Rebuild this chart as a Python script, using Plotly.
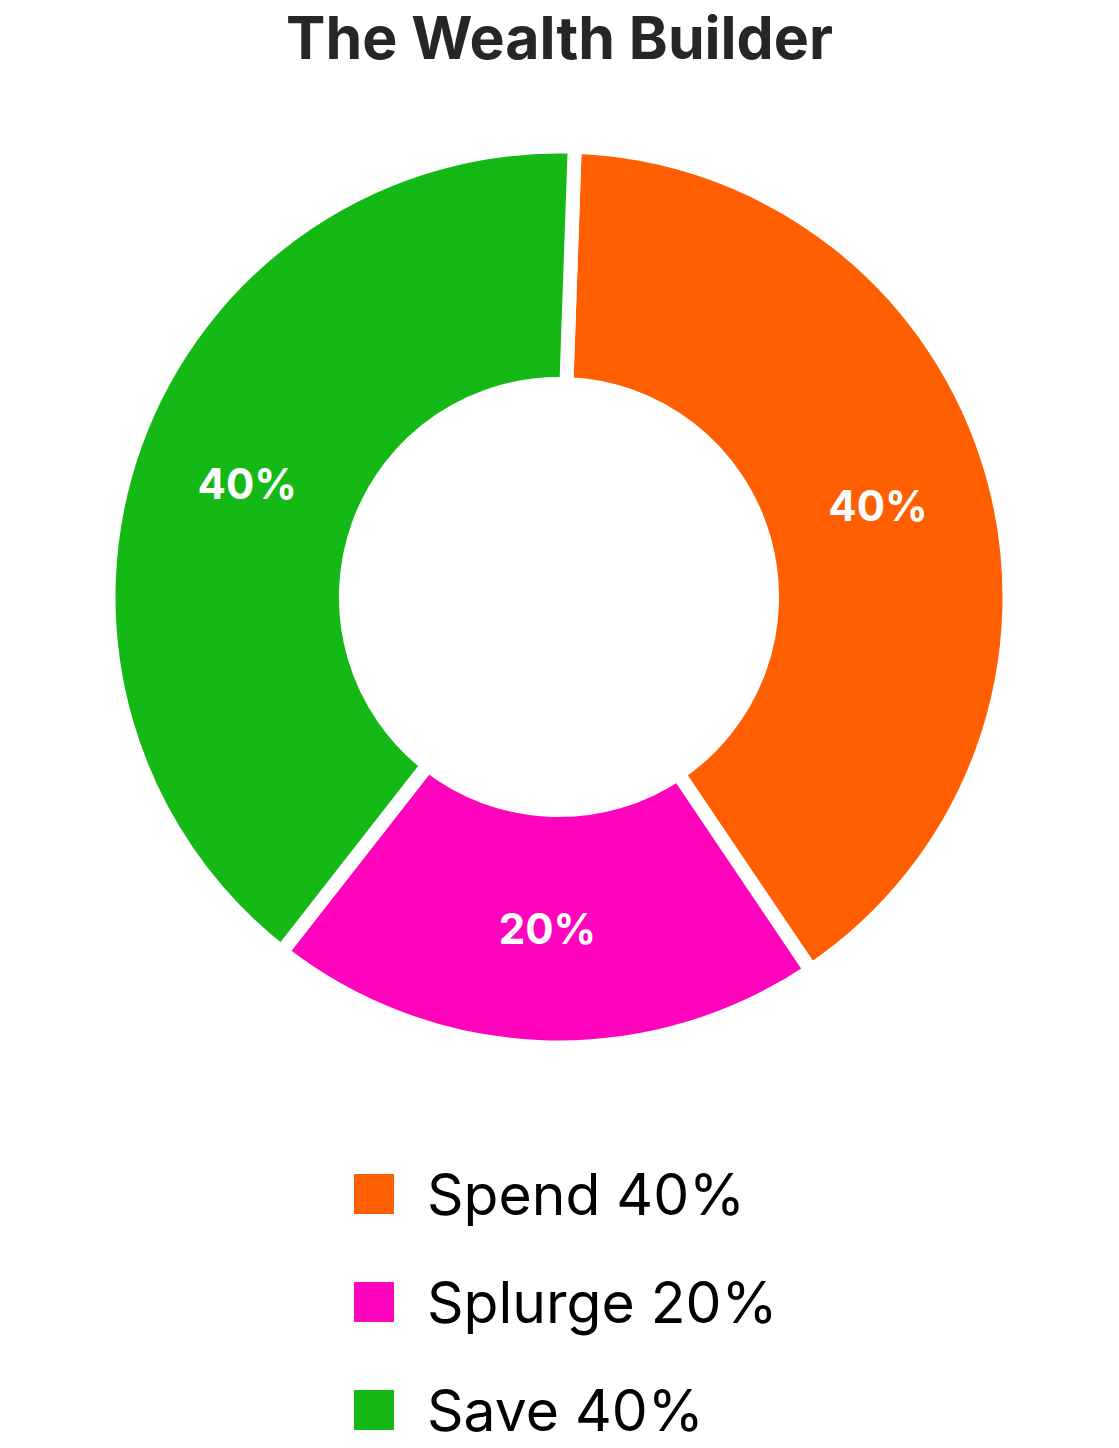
import plotly.graph_objects as go

# ---- data ----
labels = ["Spend", "Splurge", "Save"]
values = [40, 20, 40]
colors = ["#FF5F00", "#FF03BD", "#15B915"]
title_text = "The Wealth Builder"

# page body margin removed below, so figure fills the window
W, H = 1119, 1448


def px(x):
    return x / W


def py(y):
    return 1 - y / H


fig = go.Figure()
fig.add_trace(go.Pie(
    labels=labels,
    values=values,
    sort=False,
    direction="clockwise",
    rotation=2,
    hole=0.473,
    marker=dict(colors=colors, line=dict(color="#FFFFFF", width=14)),
    textinfo="percent",
    texttemplate="%{percent:.0%}",
    textposition="inside",
    insidetextorientation="horizontal",
    textfont=dict(family="Inter", size=42, color="#FFFFFF", weight="bold"),
    domain=dict(x=[px(108.5), px(1009.5)], y=[py(1047.5), py(146.5)]),
    showlegend=False,
    hoverinfo="label+percent",
))

# custom large legend built from the data arrays
shapes = []
annotations = []
row0 = 1194
row_gap = 108
for i, (lab, val, col) in enumerate(zip(labels, values, colors)):
    cy = row0 + i * row_gap
    shapes.append(dict(
        type="rect", xref="paper", yref="paper",
        x0=px(354), x1=px(394),
        y0=py(cy + 20), y1=py(cy - 20),
        fillcolor=col, line=dict(width=0),
    ))
    annotations.append(dict(
        xref="paper", yref="paper",
        x=px(425), y=py(cy),
        xanchor="left", yanchor="middle",
        text=f"{lab} {val}%", showarrow=False,
        font=dict(family="Inter", size=57, color="#000000"),
    ))

fig.update_layout(
    width=W, height=H,
    margin=dict(l=0, r=0, t=0, b=0),
    paper_bgcolor="#FFFFFF",
    plot_bgcolor="#FFFFFF",
    title=dict(
        text=title_text,
        x=0.5, xanchor="center",
        y=py(38), yanchor="middle", yref="container",
        font=dict(family="Inter", size=59, color="#262626", weight="bold"),
    ),
    shapes=shapes,
    annotations=annotations,
)

fig.write_html(
    "out.html",
    config={"displayModeBar": False},
    post_script="document.body.style.margin='0';document.body.style.overflow='hidden';",
)
